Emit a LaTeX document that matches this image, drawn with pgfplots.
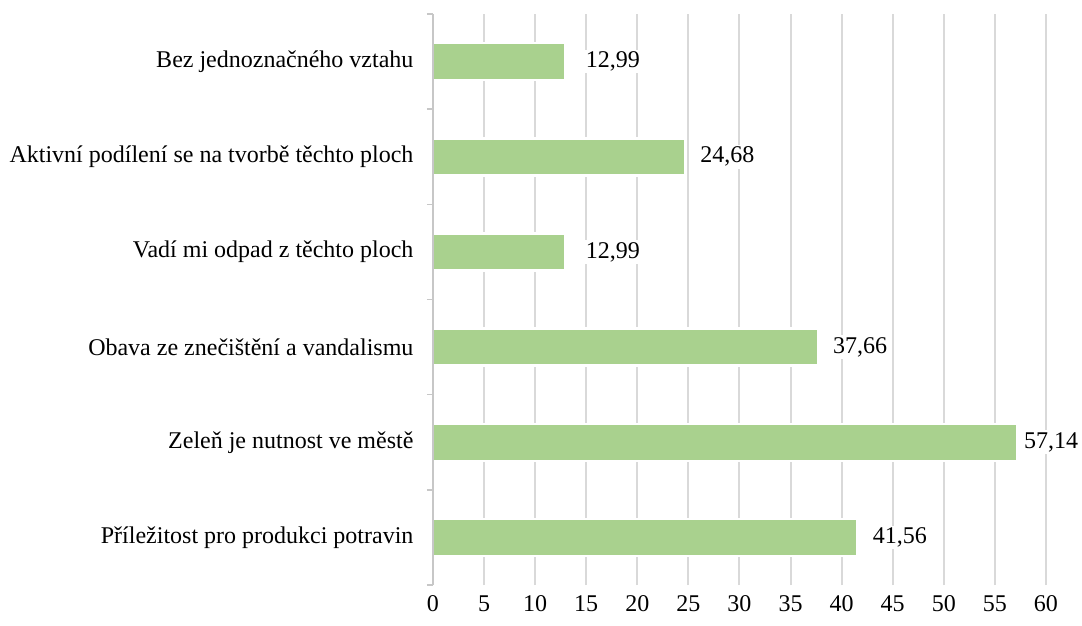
\documentclass[border=0pt]{standalone}
\usepackage{fontspec}
\setmainfont{Liberation Serif}
\usepackage{pgfplots}
\usepackage{pgfplotstable}
\pgfplotsset{compat=1.18}
\definecolor{barg}{HTML}{A9D18E}
\definecolor{gridg}{HTML}{D9D9D9}
\pgfplotstableread{
val pos shift
41.56 0 12
57.14 1 4
37.66 2 12
12.99 3 17
24.68 4 12
12.99 5 17
}\datatable
\begin{document}
\begin{tikzpicture}
\begin{axis}[
  scale only axis,
  width=613pt, height=571pt,
  xbar, bar width=37pt,
  xmin=0, xmax=60,
  ymin=-0.5, ymax=5.5,
  xtick={0,5,...,60},
  ytick={0,...,5},
  yticklabels={Příležitost pro produkci potravin,Zeleň je nutnost ve městě,Obava ze znečištění a vandalismu,Vadí mi odpad z těchto ploch,Aktivní podílení se na tvorbě těchto ploch,Bez jednoznačného vztahu},
  minor ytick={-0.5,0.5,...,5.5},
  major tick length=0pt,
  minor tick length=6pt,
  tick align=outside,
  tick pos=left,
  minor tick style={gridg!80!gray, line width=1.5pt},
  axis lines*=left,
  x axis line style={draw=none},
  y axis line style={draw=none},
  xmajorgrids,
  major grid style={gridg, line width=2pt},
  /pgf/number format/assume math mode=true,
  ticklabel style={font=\fontsize{24}{28}\selectfont},
  xticklabel style={yshift=-7pt},
  yticklabel style={xshift=-16pt},
  visualization depends on={\thisrow{shift} \as \lblshift},
  nodes near coords={\pgfmathprintnumber[fixed,fixed zerofill,precision=2,use comma,assume math mode=true]{\pgfplotspointmeta}},
  every node near coord/.append style={font=\fontsize{24}{28}\selectfont, fill=white, inner sep=2pt, anchor=west, xshift={\lblshift*1pt}},
  after end axis/.code={\draw[gridg!80!gray, line width=1.5pt] (rel axis cs:0,0) -- (rel axis cs:0,1);},
]
\addplot[fill=barg, draw=white, line width=2.5pt] table[x=val, y=pos] {\datatable};
\end{axis}
\pgfresetboundingbox
\path (current axis.south west) ++(-433pt,-40pt) rectangle ++(1082pt,625pt);
\end{tikzpicture}
\end{document}
